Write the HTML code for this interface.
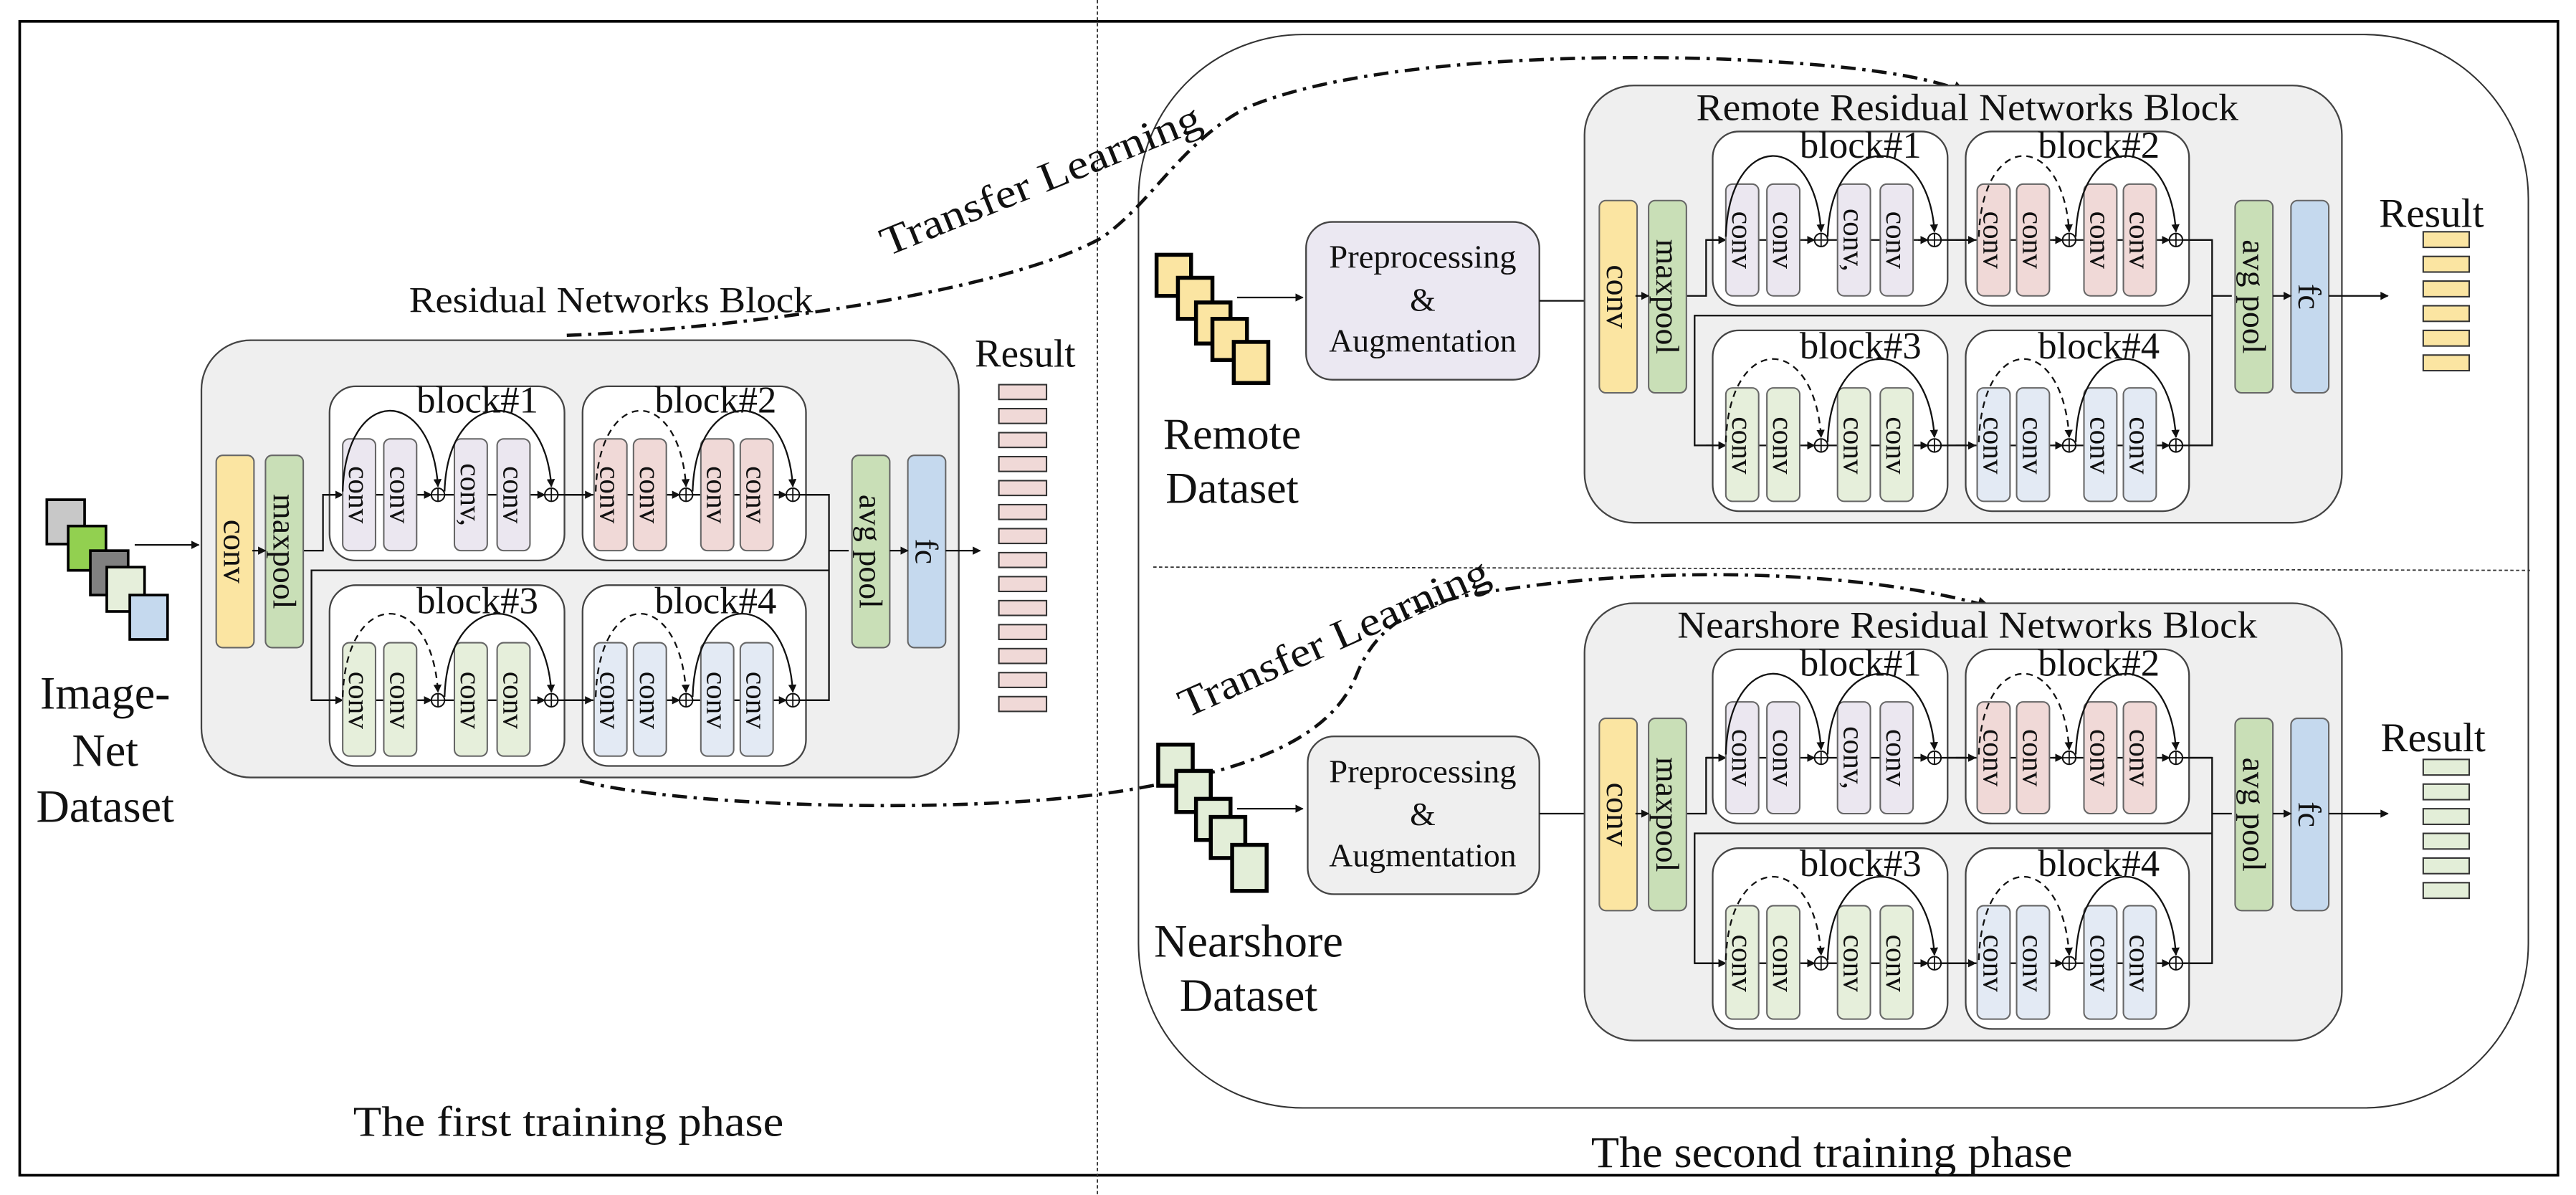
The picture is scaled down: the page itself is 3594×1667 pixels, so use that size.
<!DOCTYPE html>
<html><head><meta charset="utf-8"><style>
html,body{margin:0;padding:0;background:#fff;}
svg{display:block;}
text{font-family:"Liberation Serif",serif;fill:#111;}
</style></head><body>
<svg id="s" width="3594" height="1667" viewBox="0 0 1568 727" preserveAspectRatio="none" xmlns="http://www.w3.org/2000/svg">
<defs>
<marker id="ah" viewBox="0 0 10 10" refX="9" refY="5" markerWidth="5" markerHeight="5" orient="auto" markerUnits="userSpaceOnUse"><path d="M0,0 L10,5 L0,10 z" fill="#111"/></marker>
<marker id="ab" viewBox="0 0 10 10" refX="9" refY="5" markerWidth="8" markerHeight="8" orient="auto" markerUnits="userSpaceOnUse"><path d="M0,0 L10,5 L0,10 z" fill="#111"/></marker>
</defs>
<rect x="0" y="0" width="1568" height="727" fill="#fff"/>
<rect x="12" y="13" width="1545" height="702" fill="none" stroke="#000" stroke-width="1.6"/>
<line x1="668" y1="0" x2="668" y2="727" stroke="#333" stroke-width="0.8" stroke-dasharray="2,1.5"/>
<line x1="702" y1="345" x2="1540" y2="347" stroke="#333" stroke-width="0.8" stroke-dasharray="2,1.5"/>
<rect x="693" y="21" width="846" height="653" rx="100" ry="100" fill="none" stroke="#333" stroke-width="0.9"/>

<rect x="28.5" y="304" width="23" height="27" fill="#c8c8c8" stroke="#000" stroke-width="1.6"/>
<rect x="41.5" y="320" width="23" height="27" fill="#92d050" stroke="#000" stroke-width="1.6"/>
<rect x="55" y="335" width="23" height="27" fill="#808080" stroke="#000" stroke-width="1.6"/>
<rect x="65" y="345" width="23" height="27" fill="#e6efdb" stroke="#000" stroke-width="1.6"/>
<rect x="79" y="362" width="23" height="27" fill="#c5d9ee" stroke="#000" stroke-width="1.6"/>
<line x1="82" y1="331.5" x2="121" y2="331.5" stroke="#111" stroke-width="1" marker-end="url(#ah)"/>
<text x="64" y="431" font-size="28" text-anchor="middle">Image-</text>
<text x="64" y="466" font-size="28" text-anchor="middle">Net</text>
<text x="64" y="500" font-size="28" text-anchor="middle">Dataset</text>
<text x="372" y="190" font-size="22" text-anchor="middle" textLength="246" lengthAdjust="spacingAndGlyphs">Residual Networks Block</text>
<text x="624" y="223" font-size="24" text-anchor="middle">Result</text>
<text x="346" y="691" font-size="26" text-anchor="middle" textLength="262" lengthAdjust="spacingAndGlyphs">The first training phase</text>
<text x="1115" y="710" font-size="27" text-anchor="middle" textLength="293" lengthAdjust="spacingAndGlyphs">The second training phase</text>

<path d="M345,204 C450,200 610,178 670,145 C700,125 720,85 760,65 C820,40 940,32 1050,36 C1120,39 1170,45 1196,56" fill="none" stroke="#111" stroke-width="2" stroke-dasharray="9,4,2,4" marker-end="url(#ab)"/>
<path d="M353,475 C420,492 600,496 690,480 C760,468 810,450 826,410 C840,375 870,364 920,358 C1010,345 1130,346 1211,369" fill="none" stroke="#111" stroke-width="2" stroke-dasharray="9,4,2,4" marker-end="url(#ab)"/>
<text transform="translate(540,156) rotate(-22)" font-size="25" textLength="208" lengthAdjust="spacingAndGlyphs">Transfer Learning</text>
<text transform="translate(722,437) rotate(-24)" font-size="25" textLength="204" lengthAdjust="spacingAndGlyphs">Transfer Learning</text>

<g stroke="#000" stroke-width="2.4" fill="#fbe5a2">
<rect x="704" y="155" width="21" height="25"/>
<rect x="717" y="169" width="21" height="25"/>
<rect x="728" y="184" width="21" height="25"/>
<rect x="738" y="194" width="21" height="25"/>
<rect x="751" y="208" width="21" height="25"/>
</g>
<line x1="753" y1="181" x2="793" y2="181" stroke="#111" stroke-width="1" marker-end="url(#ah)"/>
<rect x="795" y="135" width="142" height="96" rx="16" fill="#ebe8f2" stroke="#444" stroke-width="1"/>
<text x="866" y="163" font-size="20" text-anchor="middle" textLength="114" lengthAdjust="spacingAndGlyphs">Preprocessing</text>
<text x="866" y="189" font-size="20" text-anchor="middle">&amp;</text>
<text x="866" y="214" font-size="20" text-anchor="middle" textLength="114" lengthAdjust="spacingAndGlyphs">Augmentation</text>
<line x1="937" y1="183" x2="973" y2="183" stroke="#111" stroke-width="1" marker-end="url(#ah)"/>
<text x="750" y="273" font-size="27" text-anchor="middle">Remote</text>
<text x="750" y="306" font-size="27" text-anchor="middle">Dataset</text>
<text x="1480" y="138" font-size="25" text-anchor="middle">Result</text>

<g stroke="#000" stroke-width="2.4" fill="#e3eed8">
<rect x="705" y="453" width="21" height="25"/>
<rect x="716" y="469" width="21" height="25"/>
<rect x="728" y="486" width="21" height="25"/>
<rect x="737" y="497" width="21" height="25"/>
<rect x="750" y="514" width="21" height="28"/>
</g>
<line x1="753" y1="492" x2="793" y2="492" stroke="#111" stroke-width="1" marker-end="url(#ah)"/>
<rect x="796" y="448" width="141" height="96" rx="16" fill="#efefef" stroke="#444" stroke-width="1"/>
<text x="866" y="476" font-size="20" text-anchor="middle" textLength="114" lengthAdjust="spacingAndGlyphs">Preprocessing</text>
<text x="866" y="502" font-size="20" text-anchor="middle">&amp;</text>
<text x="866" y="527" font-size="20" text-anchor="middle" textLength="114" lengthAdjust="spacingAndGlyphs">Augmentation</text>
<line x1="937" y1="495" x2="973" y2="495" stroke="#111" stroke-width="1" marker-end="url(#ah)"/>
<text x="760" y="582" font-size="28" text-anchor="middle">Nearshore</text>
<text x="760" y="615" font-size="28" text-anchor="middle">Dataset</text>
<text x="1481" y="457" font-size="25" text-anchor="middle">Result</text>

<g id="nets"></g>
<g id="bars"></g>
</svg>
<script>
(function(){
var C={y:"#fbe5a2",g:"#c9dfb7",b:"#c5d9ee",p1:"#ebe7f0",p2:"#f0d9d7",p3:"#e6efdb",p4:"#e3eaf4"};
function net(tx,ty,outLen,title,tw){
 var s='<g transform="translate('+tx+','+ty+')">';
 s+='<rect x="0" y="0" width="461" height="266" rx="30" fill="#efefef" stroke="#444" stroke-width="1"/>';
 if(title) s+='<text x="233" y="21" font-size="23" text-anchor="middle" textLength="'+tw+'" lengthAdjust="spacingAndGlyphs">'+title+'</text>';
 var L='fill="none" stroke="#111" stroke-width="1"';
 s+='<path d="M62,128 H74 V94 H382 V140 H67 V219 H382 V128 H394" '+L+'/>';
 var bl=[[78,28,143,106,"block#1",168,44],[232,28,136,106,"block#2",313,44],[78,149,143,110,"block#3",168,166],[232,149,136,110,"block#4",313,166]];
 bl.forEach(function(b){s+='<rect x="'+b[0]+'" y="'+b[1]+'" width="'+b[2]+'" height="'+b[3]+'" rx="16" fill="#fff" stroke="#444" stroke-width="1"/>';});
 s+='<path d="M74,94 H382 M67,219 H382" '+L+'/>';
 [[74,86],[134,140],[203,209],[226,238],[285,291],[350,356]].forEach(function(a){
   [94,219].forEach(function(y){s+='<line x1="'+a[0]+'" y1="'+y+'" x2="'+a[1]+'" y2="'+y+'" stroke="#111" stroke-width="1" marker-end="url(#ah)"/>';});
 });
 var xs=[86,111,154,180,239,263,304,328];
 var fills=[C.p1,C.p1,C.p1,C.p1,C.p2,C.p2,C.p2,C.p2];
 var fills2=[C.p3,C.p3,C.p3,C.p3,C.p4,C.p4,C.p4,C.p4];
 xs.forEach(function(x,i){
   var t=(i==2)?"conv,":"conv";
   s+='<rect x="'+x+'" y="60" width="20" height="68" rx="4" fill="'+fills[i]+'" stroke="#666" stroke-width="0.9"/>';
   s+='<text transform="translate('+(x+10)+',94) rotate(90)" font-size="18" text-anchor="middle" dominant-baseline="central">'+t+'</text>';
   s+='<rect x="'+x+'" y="184" width="20" height="69" rx="4" fill="'+fills2[i]+'" stroke="#666" stroke-width="0.9"/>';
   s+='<text transform="translate('+(x+10)+',219) rotate(90)" font-size="18" text-anchor="middle" dominant-baseline="central">conv</text>';
 });
 [144,213,295,360].forEach(function(x){[94,219].forEach(function(y){
   s+='<circle cx="'+x+'" cy="'+y+'" r="4" fill="#fff" stroke="#111" stroke-width="0.9"/><path d="M'+(x-4)+','+y+' H'+(x+4)+' M'+x+','+(y-4)+' V'+(y+4)+'" stroke="#111" stroke-width="0.8"/>';
 });});
 var arcs=[[86,144,0],[148,213,0],[240,295,1],[299,360,0]];
 [[94,27],[219,150]].forEach(function(r,ri){
   arcs.forEach(function(a){
     var dashed=(a[2]==1)||(ri==1&&(a[0]==86));
     var y0=r[0]-2,y1=r[0]-5,c=r[1];
     s+='<path d="M'+a[0]+','+y0+' C'+(a[0]+2)+','+c+' '+(a[1]-4)+','+c+' '+a[1]+','+y1+'" fill="none" stroke="#111" stroke-width="1" '+(dashed?'stroke-dasharray="4,3" ':'')+'marker-end="url(#ah)"/>';
   });
 });
 bl.forEach(function(b){s+='<text x="'+b[5]+'" y="'+b[6]+'" font-size="23" text-anchor="middle">'+b[4]+'</text>';});
 function col(x,f,t){s+='<rect x="'+x+'" y="70" width="23" height="117" rx="4" fill="'+f+'" stroke="#666" stroke-width="0.9"/><text transform="translate('+(x+11.5)+',128.5) rotate(90)" font-size="20" text-anchor="middle" dominant-baseline="central">'+t+'</text>';}
 col(9,C.y,"conv");col(39,C.g,"maxpool");col(396,C.g,"avg pool");col(430,C.b,"fc");
 s+='<line x1="31" y1="128" x2="39" y2="128" stroke="#111" stroke-width="1" marker-end="url(#ah)"/>';
 s+='<line x1="419" y1="128" x2="430" y2="128" stroke="#111" stroke-width="1" marker-end="url(#ah)"/>';
 s+='<line x1="453" y1="128" x2="'+outLen+'" y2="128" stroke="#111" stroke-width="1" marker-end="url(#ah)"/>';
 s+='</g>';
 return s;
}
var h='';
h+=net(122.6,207,474,null,0);
h+=net(964.5,52,489,"Remote Residual Networks Block",330);
h+=net(964.5,367,489,"Nearshore Residual Networks Block",353);
document.getElementById("nets").innerHTML=h;
var b='';
for(var i=0;i<14;i++) b+='<rect x="608" y="'+(234+i*14.6)+'" width="29" height="9" fill="#f0d9d7" stroke="#333" stroke-width="0.9"/>';
for(var i=0;i<6;i++) b+='<rect x="1475" y="'+(141+i*15)+'" width="28" height="9.5" fill="#fbe5a2" stroke="#333" stroke-width="0.9"/>';
for(var i=0;i<6;i++) b+='<rect x="1475" y="'+(462+i*15)+'" width="28" height="9.5" fill="#e3eed8" stroke="#333" stroke-width="0.9"/>';
document.getElementById("bars").innerHTML=b;
})();
</script>
</body></html>
